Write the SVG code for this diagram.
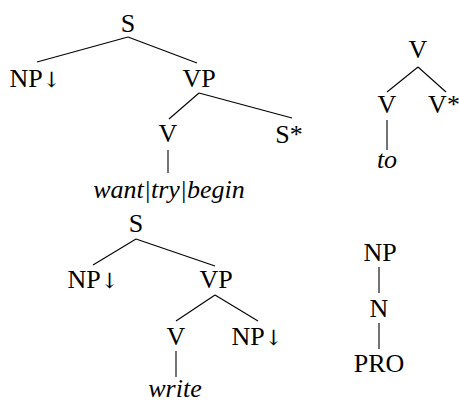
<svg xmlns="http://www.w3.org/2000/svg" width="459" height="403" viewBox="0 0 459 403">
<style>
text{font-family:'Liberation Serif','Times New Roman','DejaVu Serif',serif;font-size:26px;fill:#000;text-anchor:middle}
.it{font-style:italic}
.ar{font-family:'DejaVu Serif','Liberation Serif',serif;font-size:21px}
line{stroke:#000;stroke-width:1.1}
</style>
<rect width="459" height="403" fill="#fff"/>
<g id="connectors">
<line x1="128" y1="37" x2="37" y2="62"/>
<line x1="128" y1="37" x2="197" y2="63"/>
<line x1="199" y1="93" x2="169" y2="119"/>
<line x1="199" y1="93" x2="292" y2="118"/>
<line x1="168" y1="150" x2="168" y2="173"/>
<line x1="136" y1="239" x2="93" y2="265"/>
<line x1="136" y1="239" x2="215" y2="266"/>
<line x1="215" y1="295" x2="176" y2="321"/>
<line x1="215" y1="295" x2="258" y2="321"/>
<line x1="176" y1="351" x2="176" y2="377"/>
<line x1="418" y1="67" x2="387" y2="92"/>
<line x1="418" y1="67" x2="446" y2="92"/>
<line x1="387" y1="120" x2="387" y2="150"/>
<line x1="379" y1="267" x2="379" y2="293"/>
<line x1="379" y1="323" x2="379" y2="349"/>
</g>
<g id="t1-S"><text x="128" y="32">S</text></g>
<g id="t1-NP"><text x="35" y="87">NP<tspan class="ar">↓&#xFE0E;</tspan></text></g>
<g id="t1-VP"><text x="199" y="87">VP</text></g>
<g id="t1-V"><text x="168" y="142">V</text></g>
<g id="t1-Sstar"><text x="289" y="143">S*</text></g>
<g id="t1-word"><text class="it" x="169" y="198">want|try|begin</text></g>
<g id="t2-S"><text x="136" y="232">S</text></g>
<g id="t2-NP"><text x="93" y="288">NP<tspan class="ar">↓&#xFE0E;</tspan></text></g>
<g id="t2-VP"><text x="216" y="288">VP</text></g>
<g id="t2-V"><text x="176" y="345">V</text></g>
<g id="t2-NP2"><text x="257" y="345">NP<tspan class="ar">↓&#xFE0E;</tspan></text></g>
<g id="t2-word"><text class="it" x="175" y="397">write</text></g>
<g id="t3-V"><text x="418" y="58">V</text></g>
<g id="t3-V2"><text x="387" y="113">V</text></g>
<g id="t3-Vstar"><text x="444" y="113">V*</text></g>
<g id="t3-word"><text class="it" x="387" y="168">to</text></g>
<g id="t4-NP"><text x="380" y="261">NP</text></g>
<g id="t4-N"><text x="379" y="317">N</text></g>
<g id="t4-PRO"><text x="379" y="372">PRO</text></g>
</svg>
